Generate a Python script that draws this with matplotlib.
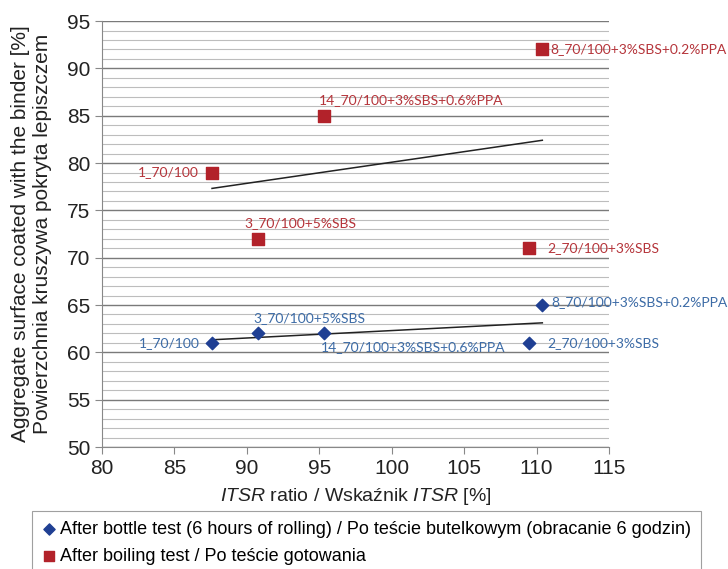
import numpy as np
import matplotlib.pyplot as plt
from matplotlib.ticker import MultipleLocator

plt.rcParams['font.family'] = ['Liberation Sans', 'DejaVu Sans']
plt.rcParams['mathtext.fontset'] = 'custom'
plt.rcParams['mathtext.it'] = 'Liberation Sans:italic'
plt.rcParams['mathtext.rm'] = 'Liberation Sans'

# data
itsr = [87.6, 90.8, 95.3, 109.5, 110.4]
names = ['1_70/100', '3_70/100+5%SBS', '14_70/100+3%SBS+0.6%PPA',
         '2_70/100+3%SBS', '8_70/100+3%SBS+0.2%PPA']
bottle = [61, 62, 62, 61, 65]
boiling = [79, 72, 85, 71, 92]

# label offsets (pixels) and alignment per point
off_boil = [(-13, 0, 'right'), (-14, 16, 'left'), (-5, 16, 'left'), (18, 0, 'left'), (8, 0, 'left')]
off_bott = [(-12, 0, 'right'), (-5, 15, 'left'), (-3, -14, 'left'), (18, 0, 'left'), (9, 3, 'left')]

red = '#B2222A'
red_txt = '#B5343A'
blue = '#1F3F93'
blue_txt = '#3C6BA6'
lab_font = ['Lato', 'DejaVu Sans']

fig = plt.figure(figsize=(7.28, 5.69), dpi=100)
ax = fig.add_axes([0.140, 0.2144, 0.6965, 0.7486])

ax.scatter(itsr, bottle, marker='D', s=40, color=blue, zorder=3,
           label='After bottle test (6 hours of rolling) / Po teście butelkowym (obracanie 6 godzin)')
ax.scatter(itsr, boiling, marker='s', s=75, color=red, zorder=3,
           label='After boiling test / Po teście gotowania')

# linear trend lines
xs = np.array([min(itsr), max(itsr)])
for ys in (bottle, boiling):
    k, b = np.polyfit(itsr, ys, 1)
    ax.plot(xs, k * xs + b, color='#222222', lw=1.1, zorder=2)

for i, n in enumerate(names):
    dx, dy, ha = off_boil[i]
    ax.annotate(n, (itsr[i], boiling[i]), xytext=(dx, dy), textcoords='offset pixels',
                ha=ha, va='center', color=red_txt, fontsize=10, family=lab_font)
    dx, dy, ha = off_bott[i]
    ax.annotate(n, (itsr[i], bottle[i]), xytext=(dx, dy), textcoords='offset pixels',
                ha=ha, va='center', color=blue_txt, fontsize=10, family=lab_font)

ax.set_xlim(80, 115)
ax.set_ylim(50, 95)
ax.xaxis.set_major_locator(MultipleLocator(5))
ax.yaxis.set_major_locator(MultipleLocator(5))
ax.yaxis.set_minor_locator(MultipleLocator(1))
ax.grid(which='major', axis='y', color='#7a7a7a', lw=1.0)
ax.grid(which='minor', axis='y', color='#bdbdbd', lw=0.8)
ax.set_axisbelow(True)
ax.tick_params(axis='both', which='major', labelsize=15, length=5, color='#888888', labelcolor='#222222')
ax.tick_params(axis='y', which='minor', length=0)
for s in ('top', 'right'):
    ax.spines[s].set_visible(False)
for s in ('left', 'bottom'):
    ax.spines[s].set_color('#888888')

ax.set_xlabel(r'$\it{ITSR}$ ratio / Wskaźnik $\it{ITSR}$ [%]', fontsize=14, color='#222222', labelpad=6)
ax.set_ylabel('Aggregate surface coated with the binder [%]\nPowierzchnia kruszywa pokryta lepiszczem',
              fontsize=15, color='#222222', linespacing=1.15)
ax.yaxis.set_label_coords(-0.099, 0.5)

leg = fig.legend(loc='upper left', bbox_to_anchor=(32 / 728, 1 - 511 / 569), fontsize=13,
                 frameon=True, fancybox=False, edgecolor='#888888', handletextpad=0.2,
                 handlelength=0.8, borderpad=0.55, labelspacing=0.55, borderaxespad=0,
                 markerscale=0.9)
leg.get_frame().set_linewidth(0.8)

fig.savefig('out.png', dpi=100)
